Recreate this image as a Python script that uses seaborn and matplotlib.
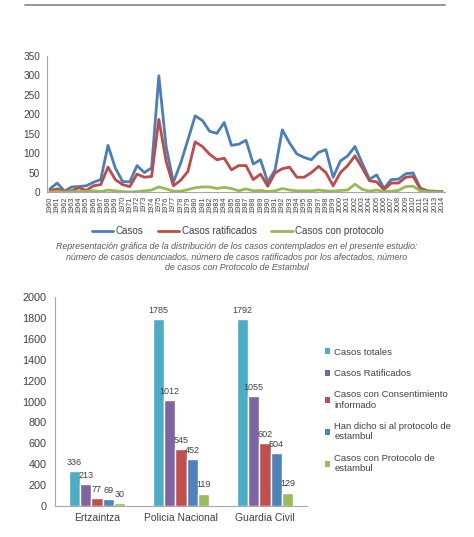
import matplotlib
matplotlib.use("Agg")
import matplotlib.pyplot as plt
import matplotlib.lines as mlines
import matplotlib.patches as mpatches
import pandas as pd
import seaborn as sns

# --- datos del grafico de lineas (por año) ---
years = list(range(1960, 2015))
casos = [8, 23, 2, 13, 14, 16, 25, 32, 120, 62,
         27, 26, 68, 50, 62, 299, 117, 25, 74, 134,
         196, 184, 156, 151, 179, 120, 123, 133, 72, 83,
         25, 57, 160, 126, 98, 89, 83, 102, 109, 38,
         80, 93, 117, 74, 33, 44, 9, 32, 33, 47,
         49, 10, 3, 2, 1]
casos_ratificados = [3, 8, 2, 3, 11, 4, 16, 19, 64, 32,
                     19, 14, 46, 38, 40, 187, 79, 16, 30, 53,
                     129, 117, 97, 83, 87, 57, 68, 68, 32, 46,
                     15, 49, 60, 64, 38, 38, 50, 66, 50, 16,
                     50, 68, 93, 62, 29, 26, 6, 23, 23, 38,
                     40, 8, 2, 1, 1]
casos_protocolo = [0, 1, 0, 1, 1, 2, 3, 1, 5, 3,
                   1, 0, 1, 3, 5, 13, 8, 2, 2, 6,
                   11, 13, 13, 9, 12, 9, 3, 8, 3, 4,
                   1, 3, 9, 5, 3, 3, 3, 5, 3, 2,
                   4, 5, 20, 7, 2, 5, 1, 2, 4, 14,
                   15, 3, 1, 0, 0]
serie_nombres = ["Casos", "Casos ratificados", "Casos con protocolo"]

# --- datos del grafico de barras ---
cuerpos = ["Ertzaintza", "Policia Nacional", "Guardia Civil"]
barras_series = ["Casos totales", "Casos Ratificados",
                 "Casos con Consentimiento informado",
                 "Han dicho si al protocolo de estambul",
                 "Casos con Protocolo de estambul"]
barras_leyenda = ["Casos totales", "Casos Ratificados",
                  "Casos con Consentimiento\ninformado",
                  "Han dicho si al protocolo de\nestambul",
                  "Casos con Protocolo de\nestambul"]
casos_totales = [336, 1785, 1792]
ratificados = [213, 1012, 1055]
consentimiento = [77, 545, 602]
han_dicho_si = [69, 452, 504]
con_protocolo = [30, 119, 129]

line_colors = ["#4A7EBB", "#BE4B48", "#98B954"]
bar_colors = ["#4BACC6", "#8064A2", "#C0504D", "#4F81BD", "#9BBB59"]
axis_gray = "#A6A6A6"
text_gray = "#404040"

sns.set_style("white")
plt.rcParams["font.family"] = ["Liberation Sans", "DejaVu Sans"]

W, H = 474, 537
fig = plt.figure(figsize=(W / 100, H / 100), dpi=100)
fig.patch.set_facecolor("white")

# linea gris de cabecera
fig.add_artist(mlines.Line2D([25 / W, 445 / W], [1 - 5 / H, 1 - 5 / H],
                             color="#8C8C8C", lw=1.3))

# ---------- grafico de lineas ----------
df_lin = pd.DataFrame({
    "year": years * 3,
    "valor": casos + casos_ratificados + casos_protocolo,
    "serie": [serie_nombres[0]] * len(years) + [serie_nombres[1]] * len(years)
             + [serie_nombres[2]] * len(years),
})

ax1 = fig.add_axes([47 / W, 1 - 192 / H, (445 - 47) / W, 136 / H])
sns.lineplot(data=df_lin, x="year", y="valor", hue="serie", hue_order=serie_nombres,
             palette=line_colors, linewidth=2.0, ax=ax1, legend=False)
ax1.set_xlim(1959.6, 2014.4)
ax1.set_ylim(0, 350)
ax1.set_yticks(range(0, 351, 50))
ax1.set_xticks(years)
ax1.set_xticklabels([str(y) for y in years], rotation=90, fontsize=5.2, color=text_gray)
ax1.tick_params(axis="y", labelsize=7.2, colors=text_gray, length=3, width=0.6,
                color=axis_gray, pad=2)
ax1.tick_params(axis="x", length=2, width=0.5, color=axis_gray, pad=1)
ax1.set_xlabel("")
ax1.set_ylabel("")
for s in ["top", "right"]:
    ax1.spines[s].set_visible(False)
for s in ["left", "bottom"]:
    ax1.spines[s].set_color(axis_gray)
    ax1.spines[s].set_linewidth(0.8)

handles = [mlines.Line2D([], [], color=c, lw=2.0) for c in line_colors]
fig.legend(handles, serie_nombres, loc="center", bbox_to_anchor=(0.502, 1 - 231 / H),
           ncol=3, frameon=False, fontsize=7, handlelength=2.2, handletextpad=0.25,
           columnspacing=1.5, labelcolor=text_gray)

fig.text(0.5, 1 - 257 / H,
         "Representación gráfica de la distribución de los casos contemplados en el presente estudio:\n"
         "número de casos denunciados, número de casos ratificados por los afectados, número\n"
         "de casos con Protocolo de Estambul",
         ha="center", va="center", style="italic", fontsize=6.4, color="#595959",
         linespacing=1.25)

# ---------- grafico de barras ----------
df_bar = pd.DataFrame({
    "cuerpo": cuerpos * 5,
    "serie": sum([[s] * 3 for s in barras_series], []),
    "valor": casos_totales + ratificados + consentimiento + han_dicho_si + con_protocolo,
})

ax2 = fig.add_axes([55 / W, 1 - 506 / H, (307 - 55) / W, 209 / H])
sns.barplot(data=df_bar, x="cuerpo", y="valor", hue="serie", hue_order=barras_series,
            order=cuerpos, palette=bar_colors, width=0.67, saturation=1,
            errorbar=None, ax=ax2, legend=False)
for cont in ax2.containers:
    ax2.bar_label(cont, fontsize=6.5, color=text_gray, padding=3)
ax2.set_xlim(-0.5, 2.5)
ax2.set_ylim(0, 2000)
ax2.set_yticks(range(0, 2001, 200))
ax2.set_xticks([-0.5, 0.5, 1.5, 2.5], minor=True)
ax2.tick_params(axis="x", which="major", length=0, labelsize=7.5, colors=text_gray, pad=5)
ax2.tick_params(axis="x", which="minor", length=3, width=0.6, color=axis_gray)
ax2.tick_params(axis="y", labelsize=7.8, colors=text_gray, length=3, width=0.6,
                color=axis_gray, pad=3)
ax2.set_xlabel("")
ax2.set_ylabel("")
for s in ["top", "right"]:
    ax2.spines[s].set_visible(False)
for s in ["left", "bottom"]:
    ax2.spines[s].set_color(axis_gray)
    ax2.spines[s].set_linewidth(0.8)

bar_handles = [mpatches.Patch(facecolor=c, edgecolor="none") for c in bar_colors]
fig.legend(bar_handles, barras_leyenda, loc="upper left",
           bbox_to_anchor=(320 / W, 1 - 343 / H), frameon=False, fontsize=6.8,
           handlelength=0.6, handleheight=0.6, handletextpad=0.4, labelspacing=1.3,
           borderpad=0, labelcolor=text_gray)

fig.savefig("out.png", dpi=100, facecolor="white")
plt.close(fig)
